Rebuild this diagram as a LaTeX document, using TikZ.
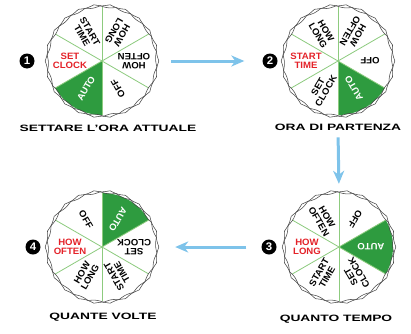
\documentclass[tikz,border=0pt]{standalone}
\usepackage{fontspec}
\setmainfont{Liberation Sans}
\newfontfamily\dialfont[FakeStretch=1.04]{Liberation Sans Bold}
\newfontfamily\capfont[FakeStretch=1.5]{Liberation Sans Bold}
\usetikzlibrary{arrows.meta,positioning}
\definecolor{tmGreen}{HTML}{2E9B3F}
\definecolor{tmSpoke}{HTML}{8DCB7E}
\definecolor{tmRed}{HTML}{E42229}
\definecolor{tmSky}{HTML}{7EC3EA}
\definecolor{tmRim}{HTML}{4A4A4A}
\tikzset{
  >={Stealth[length=13pt,width=11pt,inset=4pt]},
  dialtxt/.style={font=\dialfont\fontsize{9.2}{9.2}\selectfont, align=center, inner sep=0pt},
  dialbox/.style={circle, minimum size=114pt, inner sep=0pt},
  numdot/.style={circle, fill=black, text=white, minimum size=15pt, inner sep=0pt,
              font=\dialfont\fontsize{11}{11}\selectfont},
  caption/.style={font=\capfont\fontsize{9.2}{9.2}\selectfont, inner sep=1pt},
  rim/.style={draw=tmRim, line width=0.55pt},
  spoke/.style={draw=tmSpoke, line width=0.8pt},
  flow/.style={->, draw=tmSky, line width=3pt},
}
\begin{document}
\begin{tikzpicture}[x=1pt,y=1pt]
    \useasboundingbox (0,0) rectangle (411,333);
    % dials
    \foreach \d/\cx/\cy/\nx in {0/102/272/27, 1/338/272/270, 2/339/86/269, 3/102/86/33}{
      \pgfmathtruncatemacro\num{\d+1}
      \begin{scope}[shift={(\cx,\cy)}]
        \fill[white] (0,0) circle (55);
        \fill[tmGreen] (0,0) -- (210+60*\d:54) arc[start angle=210+60*\d, end angle=270+60*\d, radius=54] -- cycle;
        \foreach \a in {30,90,...,330}
          \draw[spoke] (0,0) -- (\a+60*\d:54);
        \foreach \t/\k in {SET\\CLOCK/0, AUTO/1, OFF/2, HOW\\OFTEN/3, HOW\\LONG/4, START\\TIME/5}{
          \pgfmathtruncatemacro\sel{mod(\k+\d,6)}
          \ifnum\k=1 \def\tcol{white}\else\ifnum\sel=0 \def\tcol{tmRed}\else\def\tcol{black}\fi\fi
          \node[dialtxt, text=\tcol, rotate=60*\k+60*\d] at (180+60*\k+60*\d:32) {\t};
        }
        \draw[rim] plot[domain=0:360, samples=397] (\x:{56.8-1.6*abs(sin(11*\x))}) -- cycle;
        \draw[rim] plot[domain=0:360, samples=397] (\x:{55.2-1.6*abs(sin(11*\x+70))}) -- cycle;
        \node[dialbox] (d\num) at (0,0) {};
      \end{scope}
      \node[numdot] (n\num) at (\nx,\cy) {\num};
    }
    % captions
    \node[caption] (c1) at (108,205) {SETTARE L’ORA ATTUALE};
    \node[caption] (c2) at (338,206) {ORA DI PARTENZA};
    \node[caption] (c3) at (336,14) {QUANTO TEMPO};
    \node[caption] (c4) at (103,16) {QUANTE VOLTE};
    % arrows
    \draw[flow, shorten <=12pt, shorten >=18pt] (d1.east) -- (n2.west);
    \draw[flow, shorten <=6pt, shorten >=6pt] (c2.south) -- (d3.north);
    \draw[flow, shorten <=15pt, shorten >=16pt] (n3.west) -- (d4.east);
  \end{tikzpicture}
\end{document}
